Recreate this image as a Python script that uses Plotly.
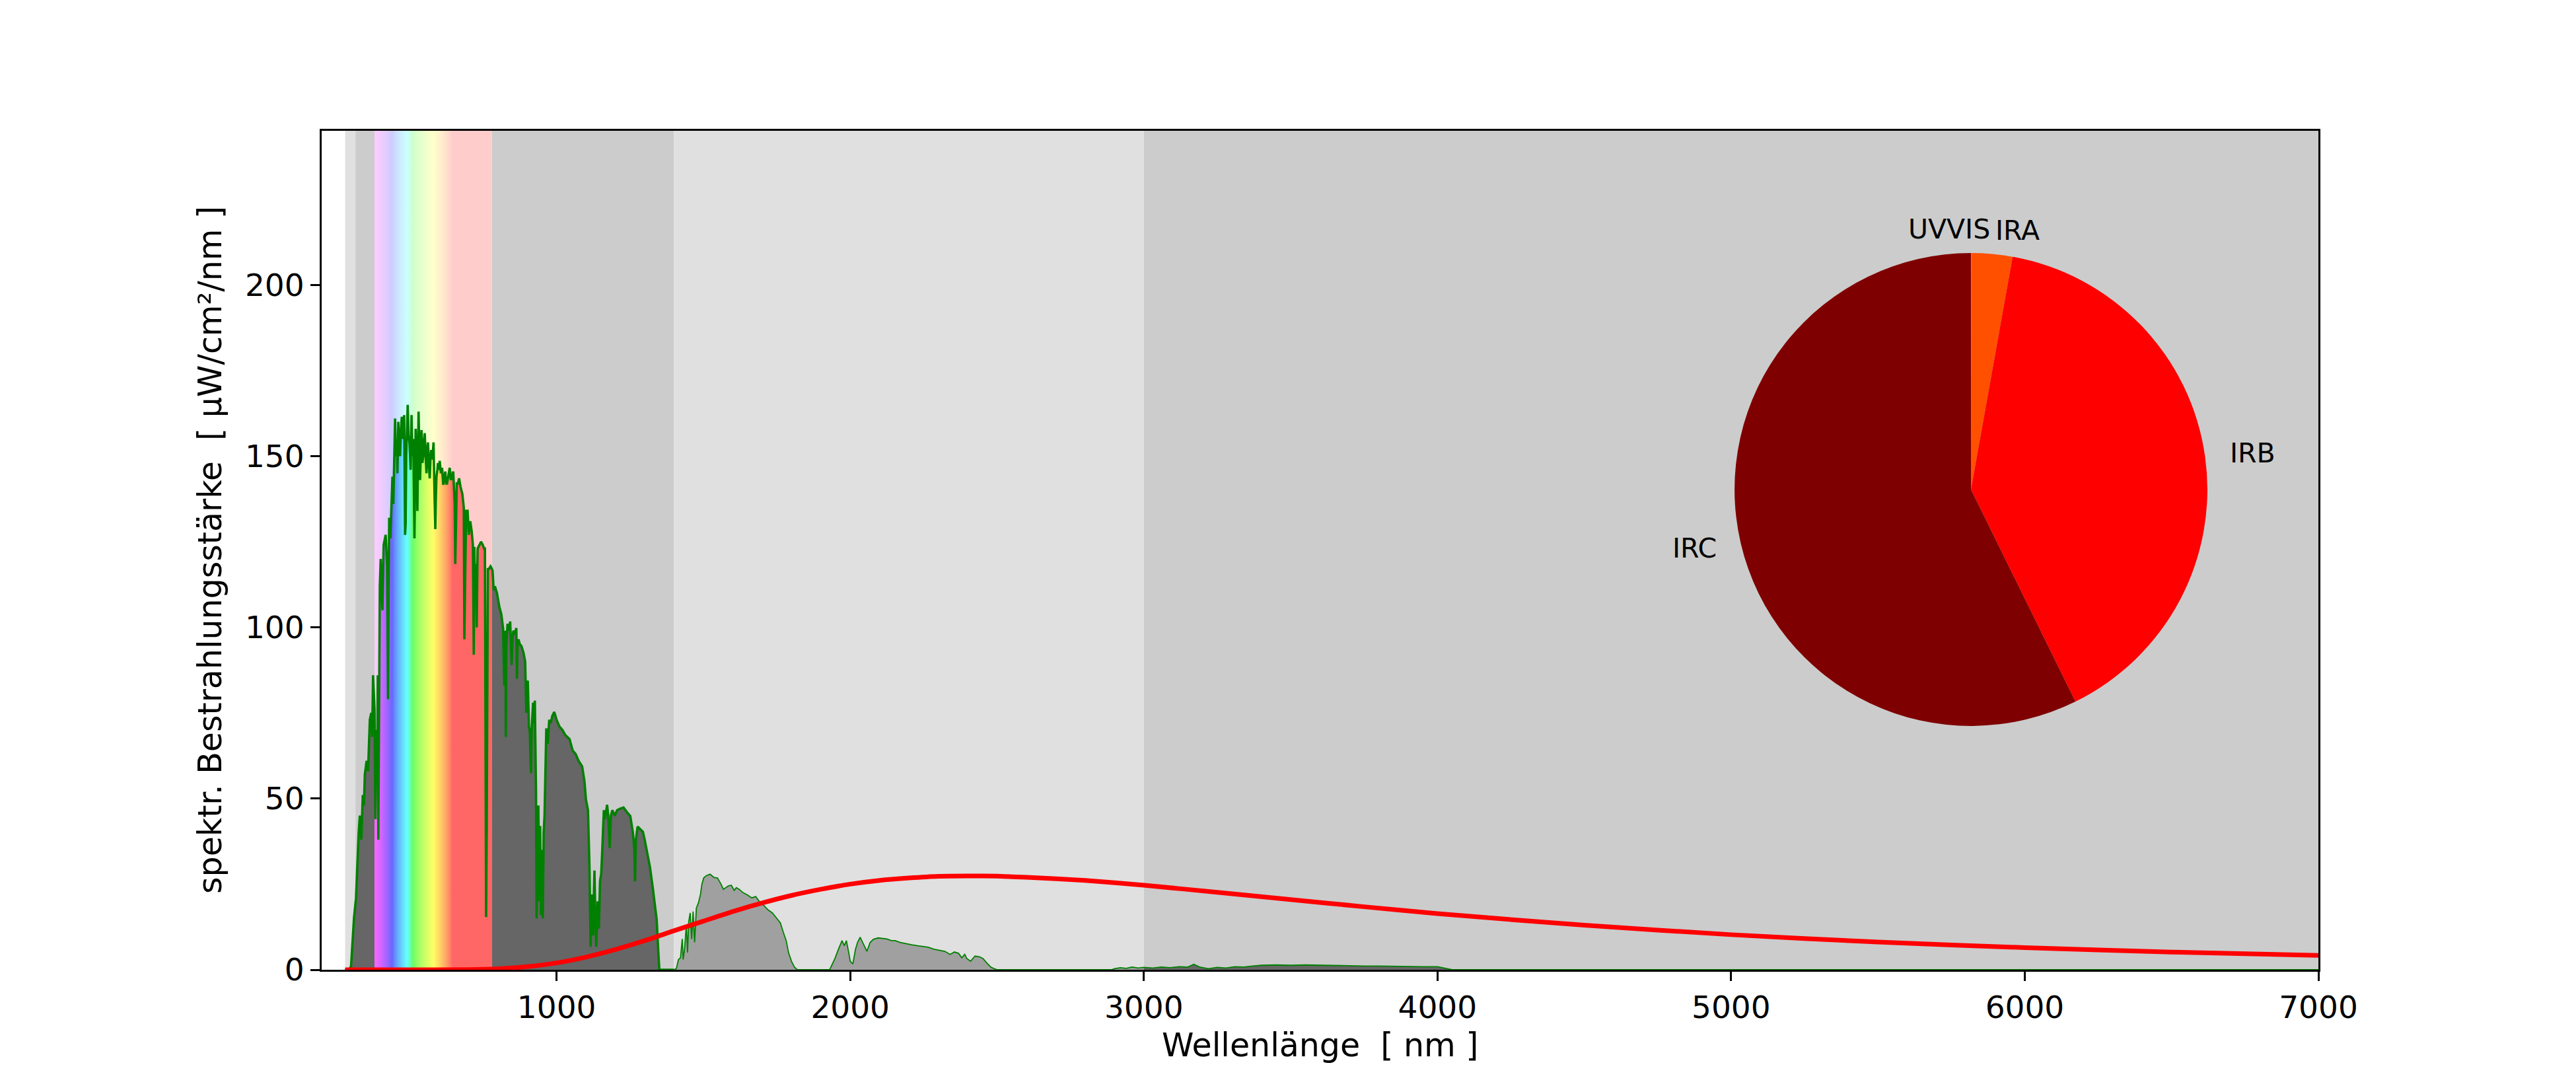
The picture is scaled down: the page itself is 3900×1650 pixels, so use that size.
import math
import plotly.graph_objects as go

# ---------------- data ----------------
wavelength_nm = [
    280, 295, 300, 305, 310, 317, 322, 326, 330, 335, 340, 344, 347, 353, 358, 364, 369, 372, 375, 378,
    380, 383, 386, 389, 391, 393, 395, 398, 401, 404, 407, 411, 418, 423, 426, 428, 430, 434, 438, 441,
    444, 447, 450, 453, 456, 458, 461, 464, 467, 470, 473, 477, 481, 484, 486, 488, 490, 493, 496, 499,
    503, 506, 509, 512, 516, 518, 520, 523, 526, 528, 530, 533, 535, 538, 540, 543, 546, 549, 551, 554,
    557, 560, 562, 565, 568, 571, 573, 577, 581, 584, 587, 589, 591, 594, 596, 599, 602, 606, 610, 614,
    618, 621, 624, 627, 631, 636, 640, 643, 648, 651, 653, 655, 657, 660, 664, 668, 673, 679, 684, 686,
    688, 690, 692, 697, 701, 706, 711, 715, 718, 720, 723, 726, 728, 731, 737, 743, 749, 753, 756, 758,
    760, 762, 764, 766, 769, 775, 780, 782, 786, 790, 797, 805, 812, 818, 820, 822, 824, 826, 827, 829,
    833, 838, 842, 847, 850, 853, 858, 863, 865, 867, 870, 875, 880, 887, 893, 897, 900, 902, 906, 909,
    911, 913, 915, 917, 920, 923, 926, 928, 930, 932, 935, 938, 941, 944, 947, 950, 953, 956, 959, 962,
    965, 970, 975, 980, 985, 992, 1000, 1010, 1020, 1030, 1044, 1055, 1065, 1075, 1087, 1095, 1100, 1107, 1112, 1116,
    1120, 1124, 1129, 1132, 1135, 1140, 1144, 1148, 1152, 1155, 1158, 1161, 1165, 1172, 1176, 1181, 1185, 1190, 1198, 1206,
    1215, 1228, 1240, 1251, 1260, 1265, 1267, 1270, 1276, 1285, 1294, 1300, 1305, 1310, 1318, 1327, 1334, 1341, 1346, 1350,
    1400, 1408, 1415, 1422, 1428, 1431, 1436, 1442, 1446, 1450, 1455, 1460, 1465, 1470, 1476, 1483, 1490, 1495, 1501, 1510,
    1523, 1535, 1548, 1560, 1568, 1575, 1585, 1595, 1605, 1612, 1622, 1635, 1651, 1665, 1678, 1690, 1707, 1720, 1735, 1750,
    1762, 1772, 1782, 1790, 1800, 1810, 1820, 1930, 1948, 1960, 1972, 1980, 1987, 1995, 2000, 2009, 2018, 2025, 2034, 2045,
    2057, 2068, 2079, 2095, 2108, 2125, 2140, 2153, 2170, 2190, 2209, 2230, 2250, 2266, 2285, 2300, 2322, 2340, 2355, 2369,
    2380, 2390, 2397, 2410, 2425, 2440, 2452, 2465, 2480, 2500, 2890, 2900, 2920, 2940, 2960, 2980, 3000, 3030, 3060, 3090,
    3120, 3150, 3170, 3190, 3220, 3250, 3280, 3310, 3340, 3370, 3400, 3450, 3500, 3550, 3600, 3650, 3700, 3750, 3800, 3850,
    3900, 3950, 4000, 4030, 4050, 7000,
]
irradiance = [
    0, 0.3, 1, 8, 15, 21, 33, 40, 45, 38, 51, 48, 57, 61, 58, 73, 75, 68, 86, 80,
    76, 44, 70, 58, 86, 38, 78, 112, 120, 112, 105, 124, 127, 118, 79, 110, 132, 126, 140, 144,
    136, 152, 161, 150, 154, 145, 160, 152, 150, 158, 161.5, 155, 162, 127, 130, 150, 159, 165, 156, 154,
    146, 162, 150, 155, 126, 140, 158, 150, 134, 150, 163, 150, 143, 152, 157.6, 148, 150, 155, 156.7, 150,
    145, 152, 154, 148, 143.5, 150, 151.8, 149, 154, 140, 128.7, 138, 144, 146, 148, 146, 148.6, 145, 146.6, 141.6,
    144, 145.5, 142, 142, 144, 146.6, 143, 144, 145.5, 140, 136, 118.5, 130, 142, 142, 143.5, 141, 139, 135, 96.5,
    110, 128, 134, 134, 127, 131, 128, 124, 92, 123.5, 110, 118.5, 100, 123, 124, 125, 124, 123, 123, 60,
    15.4, 40, 90, 117, 117, 117.8, 117, 116.5, 110.8, 112, 110, 106, 103.7, 99.5, 90, 83, 97, 99, 68, 95,
    101, 99, 101.7, 89, 97, 99, 98, 99.8, 85, 95, 96.5, 95, 94.6, 92.7, 90, 75, 84, 84.4, 71, 69.6,
    62, 57.4, 70, 74.8, 78, 72, 78.6, 65, 51.6, 15, 30, 48, 20, 42, 16, 35, 15, 40, 45, 60,
    70.5, 66, 73, 72, 74, 75.3, 73, 71, 70, 68.5, 67.4, 64, 63, 61, 59.4, 55, 49.7, 46.6, 30, 6.7,
    22, 10, 29, 15, 6.7, 20, 12, 25.8, 28, 33.7, 40, 46.6, 44, 48.2, 45, 35.5, 45, 46.6, 45, 46.6,
    47, 47.4, 46, 44.9, 40, 35, 25.8, 38, 41.8, 41, 40.3, 38, 36, 33.7, 30, 24.3, 20, 14.6, 6, 0,
    0, 0.4, 3, 3.5, 9, 3, 6.2, 13, 5, 14, 16.6, 9, 17, 8, 18, 19.5, 22, 25, 26.8, 27.5,
    27.9, 27, 26.8, 25, 23.5, 23.9, 24.5, 24.7, 23.2, 24, 23.5, 22.5, 21.8, 21, 21.4, 20, 18.7, 17.5, 16.6, 15,
    13.7, 11, 8.5, 5, 2.5, 0.8, 0, 0, 3.3, 6, 8.5, 7, 8.5, 5, 2.5, 1.7, 6, 8, 9.5, 7.5,
    5.4, 8, 8.9, 9.3, 9.2, 9, 8.5, 8.5, 8, 7.6, 7.3, 7, 6.8, 6.6, 6, 5.8, 5.4, 4.5, 5.2, 4.8,
    3.5, 4.5, 3.3, 2.5, 4.0, 3.8, 3.3, 2, 0.7, 0, 0, 0.3, 0.6, 0.4, 0.8, 0.5, 0.7, 0.5, 0.8, 0.6,
    0.9, 0.8, 1.6, 0.8, 0.3, 0.7, 0.5, 0.9, 0.8, 1.1, 1.3, 1.4, 1.3, 1.4, 1.3, 1.2, 1.2, 1.1, 1.1, 1.0,
    1.0, 0.9, 0.9, 0.3, 0, 0,
]

planck_nm = [280, 500, 700, 800, 900, 1000, 1100, 1200, 1300, 1400, 1500, 1600, 1700, 1800, 1900, 2000,
             2100, 2200, 2300, 2400, 2500, 2600, 2800, 3000, 3250, 3500, 3750, 4000, 4500, 5000, 5500,
             6000, 6500, 7000]
planck_val = [0, 0, 0.05, 0.3, 0.9, 2.0, 3.7, 5.9, 8.5, 11.4, 14.2, 17.0, 19.5, 21.7, 23.5, 25.0,
              26.1, 26.8, 27.3, 27.4, 27.33, 27.0, 26.1, 24.7, 22.6, 20.5, 18.4, 16.4, 13.0, 10.25, 8.1,
              6.46, 5.18, 4.19]

pie_labels = ["UVVIS", "IRA", "IRB", "IRC"]
pie_values = [0.02, 2.8, 39.9, 57.3]

band_edges = [280, 315, 380, 780, 1400, 3000, 7000]
x_ticks = [1000, 2000, 3000, 4000, 5000, 6000, 7000]
y_ticks = [0, 50, 100, 150, 200]

# ---------------- styling ----------------
X_RANGE = [200, 7000]
Y_MAX = 245
W, H = 3900, 1650
PL, PR, PT, PB = 487, 3510, 198, 1468
PW, PH = PR - PL, PB - PT
FONT = "DejaVu Sans"

band_fill = ["#e0e0e0", "#cccccc", None, "#cccccc", "#e0e0e0", "#cccccc"]
under_fill = ["#666666", "#666666", None, "#666666", "#a0a0a0", "#666666"]


def bruton(lam):
    if lam < 440:
        r, g, b = -(lam - 440) / 60.0, 0.0, 1.0
    elif lam < 490:
        r, g, b = 0.0, (lam - 440) / 50.0, 1.0
    elif lam < 510:
        r, g, b = 0.0, 1.0, -(lam - 510) / 20.0
    elif lam < 580:
        r, g, b = (lam - 510) / 70.0, 1.0, 0.0
    elif lam < 645:
        r, g, b = 1.0, -(lam - 645) / 65.0, 0.0
    else:
        r, g, b = 1.0, 0.0, 0.0
    return [max(0.0, min(1.0, c)) ** 0.8 for c in (r, g, b)]


def spectrum_scale(alpha):
    lo, hi = band_edges[2], band_edges[3]
    stops = []
    for lam in range(lo, hi + 1, 5):
        rgb = bruton(lam)
        c = [round(255 * (1 - alpha) + 255 * alpha * v) for v in rgb]
        stops.append([(lam - lo) / (hi - lo), f"rgb({c[0]},{c[1]},{c[2]})"])
    return stops


def segment(lo, hi):
    xs, ys = [], []
    for x, y in zip(wavelength_nm, irradiance):
        if lo <= x <= hi:
            xs.append(x)
            ys.append(y)
    return xs, ys


fig = go.Figure()

# pale spectral background for the visible band
vis_lo, vis_hi = band_edges[2], band_edges[3]
fig.add_trace(go.Scatter(
    x=[vis_lo, vis_hi], y=[Y_MAX, Y_MAX], mode="none", fill="tozeroy",
    fillgradient=dict(type="horizontal", colorscale=spectrum_scale(0.2), start=vis_lo, stop=vis_hi),
    hoverinfo="skip", showlegend=False))

# filled areas under the spectrum (UV part, visible, IR-A, IR-B, IR-C)
fill_ranges = [(wavelength_nm[0], band_edges[2], under_fill[0]),
               (band_edges[2], band_edges[3], None),
               (band_edges[3], band_edges[4], under_fill[3]),
               (band_edges[4], band_edges[5], under_fill[4]),
               (band_edges[5], band_edges[6], under_fill[5])]
for lo, hi, col in fill_ranges:
    xs, ys = segment(lo, hi)
    if col is None:
        fig.add_trace(go.Scatter(
            x=xs, y=ys, mode="none", fill="tozeroy",
            fillgradient=dict(type="horizontal", colorscale=spectrum_scale(0.6), start=lo, stop=hi),
            hoverinfo="skip", showlegend=False))
    else:
        fig.add_trace(go.Scatter(
            x=xs, y=ys, mode="none", fill="tozeroy", fillcolor=col,
            hoverinfo="skip", showlegend=False))

# green spectrum line (thicker up to 1400 nm)
xs, ys = segment(wavelength_nm[0], band_edges[4])
fig.add_trace(go.Scatter(x=xs, y=ys, mode="lines", line=dict(color="#008000", width=3.6),
                         showlegend=False))
xs, ys = segment(band_edges[4], wavelength_nm[-1])
fig.add_trace(go.Scatter(x=xs, y=ys, mode="lines", line=dict(color="#008000", width=1.8),
                         showlegend=False))

# red black-body curve
fig.add_trace(go.Scatter(x=planck_nm, y=planck_val, mode="lines",
                         line=dict(color="#ff0000", width=7, shape="spline", smoothing=0.6),
                         showlegend=False))

# pie inset
pie_dx = [0.7076, 0.9444]
pie_dy = [0.2906, 0.8543]
pie_colors = ["#ffa500", "#ff5000", "#ff0000", "#7f0000"]
fig.add_trace(go.Pie(labels=pie_labels, values=pie_values, sort=False, direction="clockwise",
                     rotation=0, textinfo="none", marker=dict(colors=pie_colors, line=dict(width=0)),
                     domain=dict(x=pie_dx, y=pie_dy), showlegend=False, hoverinfo="label+percent"))

cxp = (pie_dx[0] + pie_dx[1]) / 2
cyp = (pie_dy[0] + pie_dy[1]) / 2
r_px = min((pie_dx[1] - pie_dx[0]) * PW, (pie_dy[1] - pie_dy[0]) * PH) / 2
total = sum(pie_values)
cum = 0.0
pie_ann = []
for lab, v in zip(pie_labels, pie_values):
    mid = 360.0 * (cum + v / 2) / total
    cum += v
    phi = math.radians(90 - mid)
    c, s = math.cos(phi), math.sin(phi)
    xanchor = "left" if c > 0.02 else ("right" if c < -0.02 else "center")
    pie_ann.append(dict(
        x=cxp + 1.1 * r_px * c / PW, y=cyp + 1.1 * r_px * s / PH, xref="paper", yref="paper",
        text=lab, showarrow=False, xanchor=xanchor, yanchor="middle",
        font=dict(family=FONT, size=41, color="black")))

# a label of a vanishing slice at 12 o'clock: end it just before the neighbouring label
for i, a in enumerate(pie_ann):
    if a["xanchor"] == "center" and i + 1 < len(pie_ann) and pie_ann[i + 1]["xanchor"] == "left":
        a["xanchor"] = "right"
        a["x"] = pie_ann[i + 1]["x"] - 4.0 / PW

annotations = list(pie_ann)

# axis titles
annotations.append(dict(x=0.5, y=(PB - 1582) / PH, xref="paper", yref="paper",
                        text="Wellenlänge \u00a0[ nm ]", showarrow=False, xanchor="center",
                        yanchor="middle", font=dict(family=FONT, size=49, color="black")))
annotations.append(dict(x=(318 - PL) / PW, y=0.5, xref="paper", yref="paper",
                        text="spektr. Bestrahlungsstärke \u00a0[ µW/cm²/nm ]", showarrow=False,
                        textangle=-90, xanchor="center", yanchor="middle",
                        font=dict(family=FONT, size=49, color="black")))

shapes = []
for i in range(len(band_edges) - 1):
    if band_fill[i] is None:
        continue
    shapes.append(dict(type="rect", xref="x", yref="paper", x0=band_edges[i], x1=band_edges[i + 1],
                       y0=0, y1=1, fillcolor=band_fill[i], line=dict(width=0), layer="below"))

axis_common = dict(showgrid=False, zeroline=False, showline=True, linecolor="black", linewidth=3,
                   mirror=True, ticks="outside", ticklen=14, tickwidth=3, tickcolor="black",
                   tickfont=dict(family=FONT, size=47, color="black"))

fig.update_layout(
    width=W, height=H, margin=dict(l=PL, r=W - PR, t=PT, b=H - PB, autoexpand=False),
    paper_bgcolor="white", plot_bgcolor="white", showlegend=False,
    xaxis=dict(range=X_RANGE, tickvals=x_ticks, ticktext=[str(t) for t in x_ticks], **axis_common),
    yaxis=dict(range=[0, Y_MAX], tickvals=y_ticks, ticktext=[str(t) for t in y_ticks], **axis_common),
    shapes=shapes, annotations=annotations, font=dict(family=FONT),
)

fig.write_html("out.html", config={"displayModeBar": False},
               post_script="document.body.style.margin='0';")
